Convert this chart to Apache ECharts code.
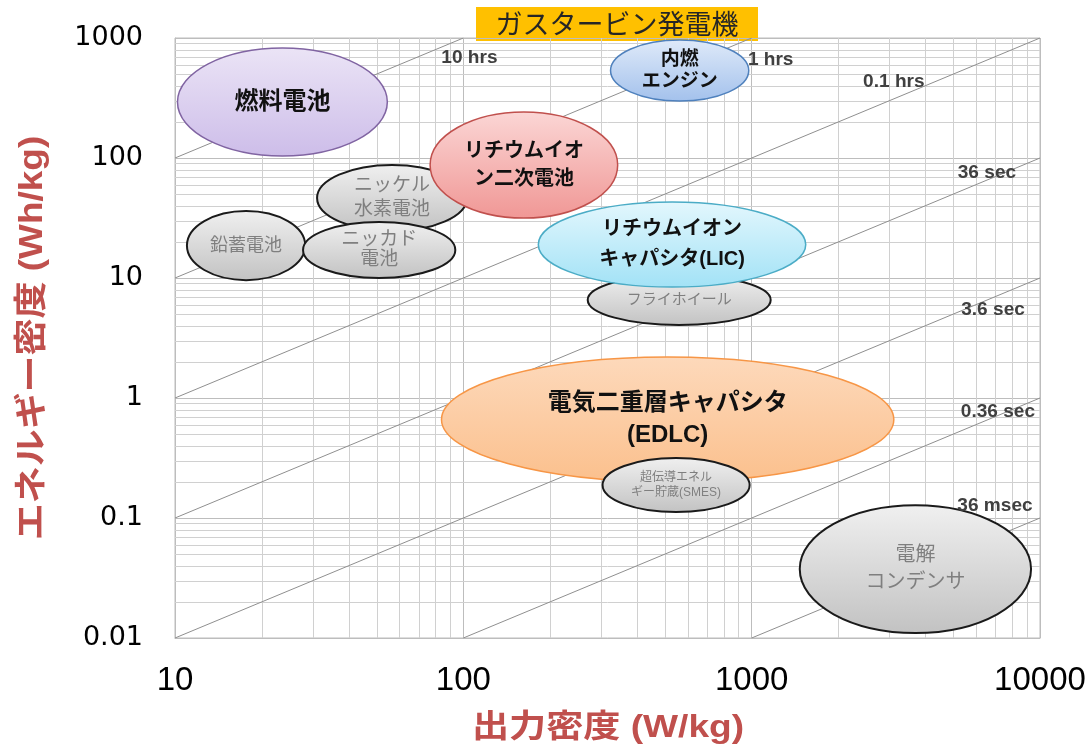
<!DOCTYPE html>
<html>
<head>
<meta charset="utf-8">
<script src="https://cdn.jsdelivr.net/npm/echarts@6/dist/echarts.min.js"></script>
<style>
html, body { margin: 0; padding: 0; background: #fff; }
#chart { width: 1091px; height: 754px; }
</style>
</head>
<body>
<div id="chart"></div>
<script>
'use strict';

// storage technologies, in drawing order (later ones sit on top)
var techNames = [
    '燃料電池', '鉛蓄電池', 'ニッケル\n水素電池', 'ニッカド\n電池', 'リチウムイオ\nン二次電池',
    '内燃\nエンジン', 'フライホイール', 'リチウムイオン\nキャパシタ(LIC)',
    '電気二重層キャパシタ\n(EDLC)', '超伝導エネル\nギー貯蔵(SMES)', '電解\nコンデンサ'
];
// output density range, W/kg
var powerRange = [
    [10.2, 54.5], [11.0, 28.3], [31.1, 103], [27.8, 93.8], [76.7, 343],
    [324, 977], [270, 1164], [182, 1540],
    [84, 3112], [304, 984], [1468, 9310]
];
// energy density range, Wh/kg
var energyRange = [
    [104, 825], [9.6, 36.2], [24.6, 87.5], [10, 29.3], [31.6, 242],
    [298, 962], [4.06, 10.6], [8.4, 43],
    [0.2, 2.2], [0.112, 0.316], [0.011, 0.128]
];

// constant discharge time lines
var timeLabels = ['10 hrs', '1 hrs', '0.1 hrs', '36 sec', '3.6 sec', '0.36 sec', '36 msec'];
var timeLineFrom = [[10, 100], [10, 10], [10, 1], [10, 0.1], [10, 0.01], [100, 0.01], [1000, 0.01]];
var timeLineTo = [[100, 1000], [1000, 1000], [10000, 1000], [10000, 100], [10000, 10], [10000, 1], [10000, 0.1]];
var timeLabelAt = [[105, 681], [1164, 656], [3112, 430], [6546, 75], [6872, 5.41], [7145, 0.764], [6980, 0.126]];

var xTickLabels = ['10', '100', '1000', '10000'];
var yTickLabels = ['0.01', '0.1', '1', '10', '100', '1000'];

var headline = 'ガスタービン発電機';
var xTitle = '出力密度 (W/kg)';
var yTitle = 'エネルギー密度 (Wh/kg)';

var AXIS_RED = '#c0504d';
var GRAY_TEXT = '#7f7f7f';
var FONT = 'Arial, "Noto Sans CJK JP"';

function grayStyle(size, lh) {
    return { top: '#f0f0f0', bottom: '#c2c2c2', stroke: '#1a1a1a', width: 2,
        color: GRAY_TEXT, size: size, weight: 'normal', lh: lh };
}
var techStyle = {
    '燃料電池': { top: '#ebe4f6', bottom: '#cdbde9', stroke: '#8064a2', width: 1.5, color: '#111', size: 24, weight: 'bold', lh: 28 },
    '鉛蓄電池': grayStyle(18, 22),
    'ニッカド\n電池': grayStyle(19, 20),
    'ニッケル\n水素電池': grayStyle(19, 24),
    'リチウムイオ\nン二次電池': { top: '#fbd6d5', bottom: '#f09795', stroke: '#c0504d', width: 1.5, color: '#111', size: 20, weight: 'bold', lh: 28 },
    '内燃\nエンジン': { top: '#dfeaf9', bottom: '#a3c1ec', stroke: '#4f81bd', width: 1.5, color: '#111', size: 19, weight: 'bold', lh: 22 },
    'フライホイール': grayStyle(15, 18),
    'リチウムイオン\nキャパシタ(LIC)': { top: '#e3f7fd', bottom: '#a2e2f6', stroke: '#4bacc6', width: 1.5, color: '#111', size: 20, weight: 'bold', lh: 30 },
    '電気二重層キャパシタ\n(EDLC)': { top: '#fdd9bb', bottom: '#fbc08d', stroke: '#f79646', width: 1.5, color: '#111', size: 24, weight: 'bold', lh: 32 },
    '超伝導エネル\nギー貯蔵(SMES)': grayStyle(12, 15),
    '電解\nコンデンサ': grayStyle(20, 27)
};

// minor log grid lines (2..9 in every decade)
var minorX = [], minorY = [];
[10, 100, 1000].forEach(function (d) {
    for (var k = 2; k < 10; k++) { minorX.push([k * d, 1]); }
});
[0.01, 0.1, 1, 10, 100].forEach(function (d) {
    for (var k = 2; k < 10; k++) { minorY.push([10, +(k * d).toPrecision(3)]); }
});

function minorLine(vertical) {
    return function (params, api) {
        var cs = params.coordSys;
        var p = api.coord([api.value(0), api.value(1)]);
        var shape;
        if (vertical) {
            var x = Math.round(p[0]) + 0.5;
            shape = { x1: x, y1: cs.y, x2: x, y2: cs.y + cs.height };
        } else {
            var y = Math.round(p[1]) + 0.5;
            shape = { x1: cs.x, y1: y, x2: cs.x + cs.width, y2: y };
        }
        return { type: 'line', shape: shape, style: { stroke: '#d0d0d0', lineWidth: 1 } };
    };
}

var ellipseData = techNames.map(function (name, i) {
    return [powerRange[i][0], powerRange[i][1], energyRange[i][0], energyRange[i][1]];
});

function renderEllipse(params, api) {
    var name = techNames[params.dataIndex];
    var st = techStyle[name];
    var a = api.coord([api.value(0), api.value(3)]);
    var b = api.coord([api.value(1), api.value(2)]);
    var cx = (a[0] + b[0]) / 2, cy = (a[1] + b[1]) / 2;
    return {
        type: 'group',
        children: [{
            type: 'ellipse',
            shape: { cx: cx, cy: cy, rx: (b[0] - a[0]) / 2, ry: (b[1] - a[1]) / 2 },
            style: {
                fill: new echarts.graphic.LinearGradient(0, 0, 0, 1, [
                    { offset: 0, color: st.top }, { offset: 1, color: st.bottom }
                ]),
                stroke: st.stroke,
                lineWidth: st.width
            }
        }, {
            type: 'text',
            x: cx,
            y: cy,
            style: {
                text: name,
                fill: st.color,
                fontSize: st.size,
                fontWeight: st.weight,
                fontFamily: FONT,
                lineHeight: st.lh,
                align: 'center',
                verticalAlign: 'middle'
            }
        }]
    };
}

function renderTimeLabel(params, api) {
    var p = api.coord([api.value(0), api.value(1)]);
    return {
        type: 'text',
        x: p[0],
        y: p[1],
        scaleX: 1.06,
        style: {
            text: timeLabels[params.dataIndex],
            fill: '#404040',
            fontSize: 18,
            fontWeight: 'bold',
            fontFamily: 'Arial',
            align: 'center',
            verticalAlign: 'middle'
        }
    };
}

var lineSeries = timeLabels.map(function (label, i) {
    return {
        type: 'line',
        name: label,
        data: [timeLineFrom[i], timeLineTo[i]],
        symbol: 'none',
        silent: true,
        z: 3,
        lineStyle: { color: '#8f8f8f', width: 1 }
    };
});

function tickLabel(list, base) {
    return function (v) {
        var idx = Math.round(Math.log10(v)) - base;
        return list[idx] !== undefined ? list[idx] : '';
    };
}

var chart = echarts.init(document.getElementById('chart'));

chart.setOption({
    animation: false,
    grid: {
        left: 175, right: 51, top: 38, bottom: 116,
        show: true, borderColor: '#bdbdbd', borderWidth: 1
    },
    graphic: [{
        type: 'group',
        left: 476,
        top: 7,
        z: 100,
        children: [{
            type: 'rect',
            shape: { x: 0, y: 0, width: 282, height: 34 },
            style: { fill: '#ffc000' }
        }, {
            type: 'text',
            x: 141,
            y: 17,
            style: {
                text: headline,
                fill: '#262626',
                fontSize: 27,
                fontFamily: '"Noto Sans CJK JP"',
                align: 'center',
                verticalAlign: 'middle'
            }
        }]
    }, {
        // axis titles, slightly stretched like the source slide
        type: 'text',
        x: 608,
        y: 728,
        scaleX: 1.16,
        style: {
            text: xTitle, fill: AXIS_RED, fontSize: 32, fontWeight: 'bold',
            fontFamily: FONT, align: 'center', verticalAlign: 'middle'
        }
    }, {
        type: 'text',
        x: 33,
        y: 338,
        rotation: Math.PI / 2,
        scaleX: 1.12,
        style: {
            text: yTitle, fill: AXIS_RED, fontSize: 33, fontWeight: 'bold',
            fontFamily: FONT, align: 'center', verticalAlign: 'middle'
        }
    }],
    xAxis: {
        type: 'log',
        logBase: 10,
        min: 10,
        max: 10000,
        axisLine: { show: true, lineStyle: { color: '#bdbdbd' } },
        axisTick: { show: false },
        axisLabel: {
            margin: 26,
            color: '#000',
            fontSize: 33,
            fontFamily: '"Liberation Sans Narrow", Arial',
            formatter: tickLabel(xTickLabels, 1)
        },
        splitLine: { show: true, lineStyle: { color: '#bdbdbd' } }
    },
    yAxis: {
        type: 'log',
        logBase: 10,
        min: 0.01,
        max: 1000,
        axisLine: { show: true, lineStyle: { color: '#bdbdbd' } },
        axisTick: { show: false },
        axisLabel: {
            margin: 32,
            color: '#000',
            fontSize: 27,
            fontFamily: '"DejaVu Sans"',
            formatter: tickLabel(yTickLabels, -2)
        },
        splitLine: { show: true, lineStyle: { color: '#bdbdbd' } }
    },
    series: [{
        type: 'custom',
        name: 'minorX',
        data: minorX,
        silent: true,
        z: 1,
        renderItem: minorLine(true)
    }, {
        type: 'custom',
        name: 'minorY',
        data: minorY,
        silent: true,
        z: 1,
        renderItem: minorLine(false)
    }].concat(lineSeries).concat([{
        type: 'custom',
        name: 'tech',
        data: ellipseData,
        encode: { x: [0, 1], y: [2, 3] },
        silent: true,
        z: 5,
        renderItem: renderEllipse
    }, {
        type: 'custom',
        name: 'timeLabels',
        data: timeLabelAt,
        silent: true,
        z: 8,
        renderItem: renderTimeLabel
    }])
});
</script>
</body>
</html>
